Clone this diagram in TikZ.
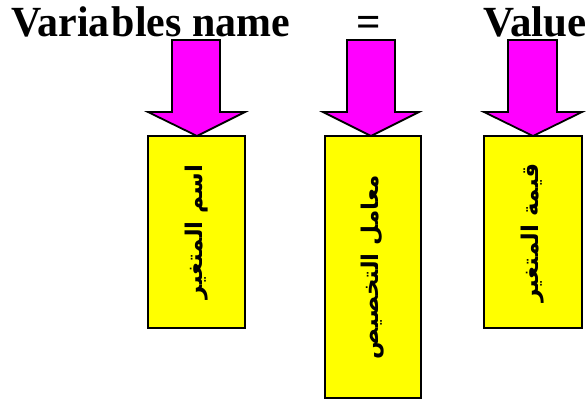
\documentclass[tikz,border=0pt]{standalone}
\usepackage{fontspec}
\setmainfont{Liberation Serif}
\newfontfamily\arabicfont[Script=Arabic]{DejaVu Sans}
\TeXXeTstate=1
\definecolor{mag}{RGB}{255,0,255}
\definecolor{yel}{RGB}{255,255,0}
\tikzset{
  title/.style={font=\fontsize{43}{43}\selectfont\bfseries, inner sep=0pt, anchor=base west},
  box/.style={draw=black, line width=2.2pt, fill=yel},
  bigarrow/.style={draw=black, line width=1.8pt, fill=mag, line join=miter},
  artext/.style={rotate=90, font=\arabicfont\bfseries\fontsize{23}{23}\selectfont, inner sep=0pt}
}
\begin{document}
\begin{tikzpicture}[x=1pt,y=-1pt]
\useasboundingbox (0,0) rectangle (587,401);
% titles
\node[title] (t1) at (11,37) {\scalebox{0.975}[1]{Varia\kern2pt bles name}};
\node[title] (t2) at (356,37) {=};
\node[title] (t3) at (483,37) {Value};
% boxes
\draw[box] (148,136) rectangle (245,328);
\draw[box] (325,136) rectangle (421,398);
\draw[box] (484,136) rectangle (582,328);
\node[artext] (a1) at (197,232) {\beginR اسم المتغير\endR};
\node[artext] (a2) at (373,267) {\beginR معامل التخصيص\endR};
\node[artext] (a3) at (533,233) {\beginR قيمة المتغير\endR};
% arrows
\draw[bigarrow] (172,40) -- (220,40) -- (220,112) -- (245,112) -- (197,136) -- (148,112) -- (172,112) -- cycle;
\draw[bigarrow] (347,40) -- (395,40) -- (395,112) -- (419,112) -- (371,136) -- (323,112) -- (347,112) -- cycle;
\draw[bigarrow] (508,40) -- (557,40) -- (557,112) -- (582,112) -- (533,136) -- (484,112) -- (508,112) -- cycle;
\end{tikzpicture}
\end{document}
